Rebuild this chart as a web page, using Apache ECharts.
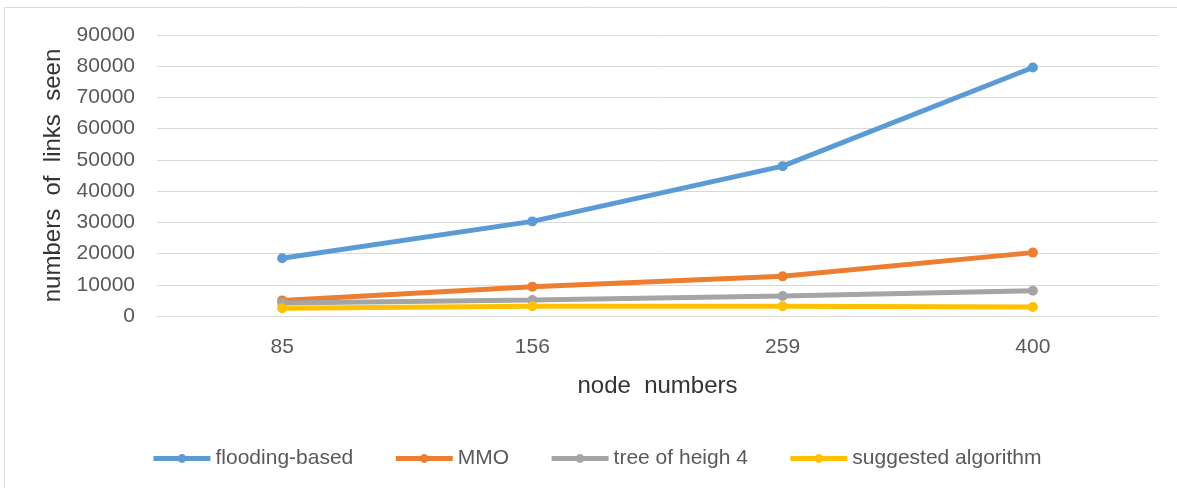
<!DOCTYPE html>
<html>
<head>
<meta charset="utf-8">
<script src="https://cdn.jsdelivr.net/npm/echarts@6/dist/echarts.min.js"></script>
<style>
html,body{margin:0;padding:0;background:#fff;}
#chart{width:1177px;height:488px;}
</style>
</head>
<body>
<div id="chart"></div>
<script>
var categories = ['85', '156', '259', '400'];
var flooding = [18500, 30300, 48000, 79600];
var mmo = [5000, 9400, 12700, 20300];
var tree = [4200, 5100, 6400, 8100];
var suggested = [2500, 3100, 3100, 2900];
var seriesNames = ['flooding-based', 'MMO', 'tree of heigh 4', 'suggested algorithm'];
var colors = ['#5B9BD5', '#ED7D31', '#A5A5A5', '#FFC000'];
var yTicks = [0, 10000, 20000, 30000, 40000, 50000, 60000, 70000, 80000, 90000];

var chart = echarts.init(document.getElementById('chart'));
var font = '"Liberation Sans", Arial, sans-serif';
function mk(name, data, color) {
  return {
    name: name, type: 'line', data: data,
    symbol: 'circle', symbolSize: 10, showSymbol: true,
    lineStyle: {width: 5, color: color},
    itemStyle: {color: color},
    emphasis: {disabled: true},
    animation: false
  };
}
chart.setOption({
  animation: false,
  textStyle: {fontFamily: font},
  graphic: [{
    type: 'rect', silent: true,
    shape: {x: 4.5, y: 7.5, width: 1300, height: 600},
    style: {fill: 'none', stroke: '#D9D9D9', lineWidth: 1}
  }],
  grid: {left: 157, right: 19, top: 35, bottom: 172, containLabel: false},
  legend: {
    bottom: 14, left: 146,
    itemWidth: 57, itemHeight: 11, itemGap: 40,
    lineStyle: {width: 5},
    textStyle: {fontSize: 21, color: '#595959', fontFamily: font},
    data: seriesNames
  },
  xAxis: {
    type: 'category', data: categories, boundaryGap: true,
    name: 'node  numbers', nameLocation: 'middle', nameGap: 58,
    nameTextStyle: {fontSize: 24, color: '#333333', fontFamily: font},
    axisLine: {lineStyle: {color: '#D9D9D9', width: 1}},
    axisTick: {show: false},
    axisLabel: {fontSize: 21, color: '#595959', margin: 21, fontFamily: font}
  },
  yAxis: {
    type: 'value', min: yTicks[0], max: yTicks[yTicks.length - 1], interval: 10000,
    name: 'numbers  of  links  seen', nameLocation: 'middle', nameGap: 92, nameRotate: 90,
    nameTextStyle: {fontSize: 24, color: '#333333', fontFamily: font},
    axisLine: {show: false}, axisTick: {show: false},
    splitLine: {lineStyle: {color: '#D9D9D9', width: 1}},
    axisLabel: {fontSize: 21, color: '#595959', margin: 22, fontFamily: font,
      formatter: function (v) { return String(v); }}
  },
  series: [
    mk(seriesNames[0], flooding, colors[0]),
    mk(seriesNames[1], mmo, colors[1]),
    mk(seriesNames[2], tree, colors[2]),
    mk(seriesNames[3], suggested, colors[3])
  ]
});
</script>
</body>
</html>
